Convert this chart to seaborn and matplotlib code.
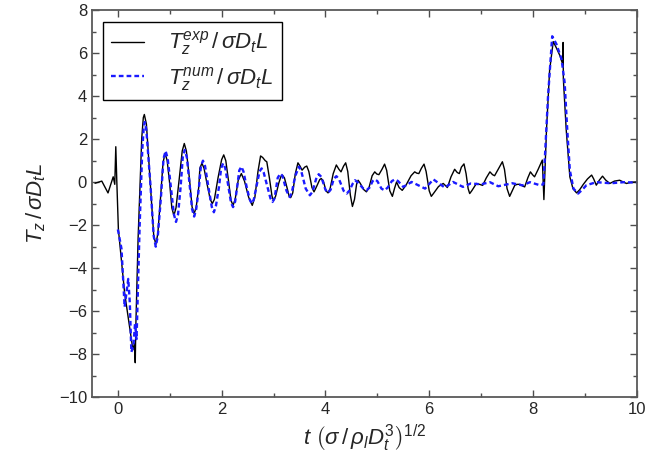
import matplotlib
matplotlib.use("Agg")
import matplotlib.pyplot as plt
from matplotlib.ticker import MultipleLocator
import seaborn as sns
import pandas as pd

t_exp = [-0.44, -0.31, -0.19, -0.09, -0.06, -0.04, -0.02, 0.01, 0.13, 0.29, 0.32, 0.335, 0.345,
         0.39, 0.46, 0.49, 0.51, 0.55, 0.62, 0.69, 0.73, 0.77, 0.82, 0.87, 0.91, 0.95, 1.0,
         1.04, 1.08, 1.12, 1.18, 1.24, 1.28, 1.32, 1.38, 1.43, 1.47, 1.51, 1.56, 1.58, 1.62,
         1.66, 1.72, 1.78, 1.82, 1.86, 1.93, 2.0, 2.04, 2.08, 2.13, 2.18, 2.22, 2.26, 2.32,
         2.38, 2.44, 2.52, 2.59, 2.64, 2.7, 2.75, 2.79, 2.84, 2.87, 2.92, 2.97, 3.0, 3.04,
         3.1, 3.14, 3.17, 3.21, 3.27, 3.3, 3.33, 3.37, 3.42, 3.47, 3.51, 3.55, 3.6, 3.64,
         3.68, 3.74, 3.78, 3.83, 3.89, 3.92, 3.96, 4.01, 4.05, 4.09, 4.15, 4.21, 4.26, 4.3,
         4.35, 4.39, 4.43, 4.48, 4.52, 4.56, 4.6, 4.63, 4.67, 4.74, 4.79, 4.84, 4.9, 4.95,
         4.99, 5.03, 5.09, 5.14, 5.18, 5.24, 5.29, 5.33, 5.37, 5.42, 5.48, 5.55, 5.65, 5.72,
         5.76, 5.8, 5.85, 5.9, 5.94, 6.0, 6.04, 6.09, 6.18, 6.27, 6.31, 6.35, 6.42, 6.49,
         6.54, 6.58, 6.62, 6.67, 6.71, 6.75, 6.78, 6.82, 6.91, 6.97, 7.03, 7.1, 7.17, 7.22,
         7.26, 7.33, 7.41, 7.45, 7.5, 7.55, 7.59, 7.65, 7.7, 7.75, 7.8, 7.84, 7.9, 7.95,
         7.99, 8.03, 8.1, 8.18, 8.21, 8.26, 8.32, 8.39, 8.45, 8.52, 8.57, 8.58, 8.585, 8.64,
         8.71, 8.77, 8.84, 8.9, 8.97, 9.05, 9.13, 9.17, 9.22, 9.28, 9.34, 9.4, 9.48, 9.57,
         9.67, 9.8, 9.9, 10.0]
T_exp = [-0.05, 0.05, -0.5, 0.25, -0.1, 1.65, 0.0, -2.2, -5.15, -7.8, -7.5, -8.4, -6.8,
         -2.6, 2.05, 3.0, 3.15, 2.7, 0.1, -2.45, -2.9, -2.4, -0.8, 0.9, 1.35, 1.0, -0.1,
         -1.2, -1.55, -1.2, 0.1, 1.45, 1.8, 1.45, 0.15, -1.15, -1.47, -1.15, -0.2, 0.65, 0.88,
         0.65, -0.1, -0.8, -1.0, -0.8, 0.2, 1.05, 1.27, 1.0, 0.1, -0.85, -1.08, -0.8, 0.1,
         0.4, 0.05, -0.7, -1.08, -0.7, 0.5, 1.22, 1.15, 1.0, 0.95, 0.2, -0.65, -0.85, -0.65,
         -0.05, 0.25, 0.33, 0.2, -0.35, -0.65, -0.72, -0.5, 0.4, 0.9, 0.75, 0.56, 0.7, 0.75,
         0.5, -0.25, -0.45, -0.2, 0.12, 0.17, 0.05, -0.4, -0.5, -0.3, 0.4, 0.8, 0.6, 0.48,
         0.75, 0.9, 0.5, -0.6, -1.13, -0.8, -0.1, 0.09, -0.05, -0.35, -0.45, -0.25, 0.3, 0.48,
         0.38, 0.35, 0.6, 0.84, 0.55, -0.4, -0.66, -0.3, 0.01, -0.25, -0.38, -0.15, 0.3, 0.48,
         0.42, 0.4, 0.65, 0.84, 0.5, -0.4, -0.66, -0.5, -0.2, -0.06, -0.15, -0.25, 0.25, 0.6,
         0.45, 0.4, 0.7, 0.85, 0.4, -0.3, -0.53, -0.4, -0.06, -0.1, -0.15, 0.2, 0.48, 0.35,
         0.3, 0.6, 0.95, 0.6, -0.3, -0.66, -0.45, -0.14, -0.1, -0.1, -0.18, -0.22, 0.2, 0.48,
         0.35, 0.25, 0.6, 1.03, -0.81, 2.44, 5.2, 6.54, 6.25, 5.88, 5.5, 6.5, 4.8, 2.44,
         0.25, -0.3, -0.5, -0.35, -0.1, 0.15, 0.33, 0.15, -0.14, 0.1, 0.28, 0.1, -0.06, 0.05,
         0.09, -0.06, 0.0, 0.01]

# numerical torque (blue dashed)
t_num = [0.0, 0.07, 0.13, 0.2, 0.23, 0.26, 0.3, 0.33, 0.36, 0.42, 0.47, 0.5, 0.52, 0.55,
         0.63, 0.69, 0.73, 0.77, 0.83, 0.88, 0.92, 0.96, 1.02, 1.08, 1.12, 1.16, 1.21, 1.25,
         1.29, 1.33, 1.38, 1.43, 1.47, 1.51, 1.56, 1.6, 1.64, 1.68, 1.75, 1.81, 1.85, 1.89,
         1.95, 1.99, 2.03, 2.07, 2.13, 2.18, 2.22, 2.26, 2.3, 2.34, 2.38, 2.42, 2.48, 2.54,
         2.58, 2.62, 2.68, 2.73, 2.77, 2.81, 2.88, 2.94, 2.98, 3.02, 3.08, 3.13, 3.17, 3.25,
         3.31, 3.35, 3.42, 3.49, 3.53, 3.62, 3.7, 3.75, 3.82, 3.87, 3.92, 4.0, 4.05, 4.1,
         4.16, 4.21, 4.26, 4.35, 4.41, 4.46, 4.53, 4.57, 4.62, 4.73, 4.79, 4.85, 4.91, 4.95,
         5.0, 5.08, 5.14, 5.2, 5.28, 5.34, 5.4, 5.5, 5.66, 5.92, 6.08, 6.3, 6.46, 6.65, 6.8,
         7.0, 7.17, 7.33, 7.6, 7.8, 7.94, 8.13, 8.2, 8.23, 8.29, 8.37, 8.45, 8.55, 8.61, 8.66,
         8.71, 8.78, 8.87, 8.95, 9.03, 9.22, 9.5, 9.75, 10.0]
T_num = [-2.2, -3.1, -5.8, -4.5, -5.6, -7.9, -7.6, -6.6, -7.3, -2.0, 1.5, 2.6, 2.8, 2.4,
         -0.2, -2.5, -3.0, -2.5, -0.7, 1.1, 1.45, 1.1, -0.2, -1.5, -1.85, -1.5, -0.2, 1.15,
         1.5, 1.15, -0.05, -1.25, -1.6, -1.25, -0.3, 0.75, 1.0, 0.75, -0.3, -1.15, -1.4, -1.1,
         -0.2, 0.65, 0.88, 0.65, -0.2, -0.95, -1.16, -0.9, -0.2, 0.55, 0.72, 0.5, -0.2, -0.8,
         -1.0, -0.8, -0.1, 0.5, 0.64, 0.45, -0.2, -0.75, -0.92, -0.75, 0.2, 0.4, 0.3, -0.4,
         -0.69, -0.5, 0.3, 0.72, 0.55, -0.3, -0.61, -0.45, 0.15, 0.37, 0.25, -0.35, -0.5, -0.35,
         0.15, 0.28, 0.15, -0.4, -0.53, -0.4, -0.05, 0.09, 0.0, -0.3, -0.38, -0.25, 0.05, 0.13,
         0.05, -0.3, -0.38, -0.25, 0.05, 0.13, 0.05, -0.22, 0.01, -0.3, 0.13, -0.25, 0.01, -0.22,
         -0.06, -0.1, 0.0, -0.19, -0.05, -0.15, 0.0, -0.14, -0.1, 1.19, 4.0, 6.79, 6.43, 5.73,
         4.63, 2.44, 0.56, -0.3, -0.53, -0.35, -0.14, 0.0, -0.05, 0.0, -0.02]

sns.set_style("ticks")
plt.rcParams["font.family"] = ["Liberation Sans", "DejaVu Sans"]
plt.rcParams["mathtext.fontset"] = "custom"
plt.rcParams["mathtext.rm"] = "Liberation Sans"
plt.rcParams["mathtext.it"] = "Liberation Sans:italic"
plt.rcParams["mathtext.bf"] = "Liberation Sans:bold"

df_exp = pd.DataFrame({"t": t_exp, "T": T_exp})
df_num = pd.DataFrame({"t": t_num, "T": T_num})

fig = plt.figure(figsize=(6.71, 4.65), dpi=100)
ax = fig.add_axes([0.137, 0.146, 0.812, 0.832])

sns.lineplot(data=df_exp, x="t", y="T", ax=ax, color="black", lw=1.0, sort=False,
             label=r"$T_z^{exp}\,/\,\sigma D_t L$")
sns.lineplot(data=df_num, x="t", y="T", ax=ax, color="#1a1aff", lw=1.7, sort=False,
             linestyle=(0, (2.0, 1.3)), label=r"$T_z^{num}\,/\,\sigma D_t L$")

ax.set_xlim(-0.5, 10)
ax.set_ylim(-10, 8)
ax.xaxis.set_major_locator(MultipleLocator(2))
ax.xaxis.set_minor_locator(MultipleLocator(1))
ax.yaxis.set_major_locator(MultipleLocator(2))
ax.yaxis.set_minor_locator(MultipleLocator(1))
ax.tick_params(which="both", direction="in", top=True, right=True, width=1.0,
               color="0.3", labelsize=12)
ax.tick_params(which="major", length=5)
ax.tick_params(which="minor", length=3)
for s in ax.spines.values():
    s.set_color("0.35")
    s.set_linewidth(1.3)

ax.set_xlabel(r"$t\ \left(\sigma\,/\,\rho_l D_t^3\right)^{1/2}$", fontsize=16, labelpad=4)
ax.set_ylabel(r"$T_z\,/\,\sigma D_t L$", fontsize=16, labelpad=8)

leg = ax.legend(loc="upper left", bbox_to_anchor=(0.02, 0.97), borderaxespad=0,
                fontsize=16, frameon=True, fancybox=False, edgecolor="black",
                framealpha=1, handlelength=1.5, handletextpad=1.1, borderpad=0.35,
                labelspacing=0.3)
leg.get_frame().set_linewidth(1.0)

fig.savefig("out.png", dpi=100)
